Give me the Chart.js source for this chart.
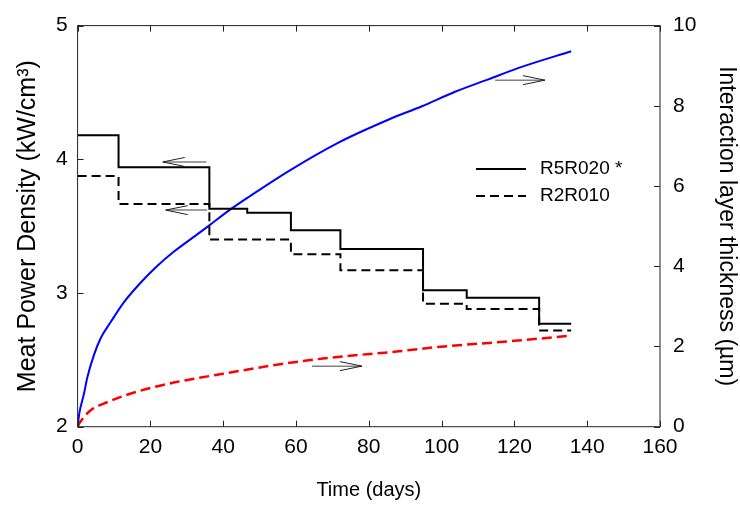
<!DOCTYPE html>
<html>
<head>
<meta charset="utf-8">
<script src="https://cdn.jsdelivr.net/npm/chart.js@4/dist/chart.umd.min.js"></script>
<style>
  html, body { margin: 0; padding: 0; background: #fff; }
  canvas { display: block; }
</style>
</head>
<body>
<canvas id="chart" width="740" height="505"></canvas>
<script>
// step data (left axis, kW/cm3)
const stepDays = [0, 11.25, 36.2, 46.6, 58.6, 72.2, 94.9, 106.9, 126.8, 135.6];
const r5r020 = [4.18, 3.94, 3.63, 3.60, 3.47, 3.33, 3.02, 2.965, 2.77, 2.77];
const dashDays = [0, 11.25, 36.2, 58.6, 72.2, 94.9, 106.9, 126.8, 135.6];
const r2r010 = [3.875, 3.665, 3.40, 3.29, 3.17, 2.92, 2.88, 2.72, 2.72];

// interaction layer thickness (right axis, um)
const blueDays = [0, 0.5, 1.75, 2.65, 4.5, 6.3, 9.1, 12.7, 17.3, 21.8, 26.4, 33.7, 36.2, 41.7, 47.2, 58.1, 71.8, 85.5, 94.6, 103.7, 112.8, 122, 135.6];
const blueThick = [0, 0.35, 0.82, 1.22, 1.79, 2.2, 2.61, 3.1, 3.59, 4.0, 4.36, 4.85, 5.02, 5.4, 5.74, 6.38, 7.09, 7.66, 7.99, 8.35, 8.66, 8.97, 9.36];
const redDays = [0, 0.6, 1.75, 3.6, 8.1, 17.3, 26.4, 40, 53.7, 67.4, 88.2, 98.2, 120, 135.6];
const redThick = [0, 0.1, 0.24, 0.41, 0.61, 0.90, 1.10, 1.32, 1.53, 1.70, 1.88, 1.98, 2.14, 2.27];

// arrows pointing to the axis each curve belongs to
const arrowFrom = [35.4, 35.6, 64.4, 114.7];
const arrowTo = [23.4, 24.2, 78.1, 128.4];
const arrowY = [3.98, 3.62, 1.51, 8.64];
const arrowAxis = ["y", "y", "y2", "y2"];

const FONT = "'Liberation Sans', Arial, sans-serif";

function pts(xs, ys) {
    return xs.map((x, i) => ({ x: x, y: ys[i] }));
}

const frame = {
    id: "frame",
    afterDraw(chart) {
        const ctx = chart.ctx;
        const a = chart.chartArea;
        const sx = chart.scales.x, sy = chart.scales.y, sy2 = chart.scales.y2;
        ctx.save();

        // arrows
        for (let i = 0; i < arrowY.length; i++) {
            const ys = chart.scales[arrowAxis[i]];
            const x0 = sx.getPixelForValue(arrowFrom[i]);
            const x1 = sx.getPixelForValue(arrowTo[i]);
            const y = ys.getPixelForValue(arrowY[i]);
            const dir = x1 > x0 ? 1 : -1;
            ctx.strokeStyle = "#808080";
            ctx.lineWidth = 1.5;
            ctx.beginPath();
            ctx.moveTo(x0, y);
            ctx.lineTo(x1, y);
            ctx.stroke();
            ctx.strokeStyle = "#222";
            ctx.lineWidth = 1;
            ctx.beginPath();
            ctx.moveTo(x1 - dir * 22, y - 4.5);
            ctx.lineTo(x1, y);
            ctx.lineTo(x1 - dir * 22, y + 4.5);
            ctx.stroke();
        }

        // box and inward ticks
        ctx.strokeStyle = "#222";
        ctx.lineWidth = 1;
        ctx.strokeRect(a.left, a.top, a.right - a.left, a.bottom - a.top);
        ctx.beginPath();
        sx.ticks.forEach(t => {
            const p = Math.round(sx.getPixelForValue(t.value)) + 0.5;
            ctx.moveTo(p, a.bottom); ctx.lineTo(p, a.bottom - 6);
            ctx.moveTo(p, a.top); ctx.lineTo(p, a.top + 6);
        });
        sy.ticks.forEach(t => {
            const p = Math.round(sy.getPixelForValue(t.value)) + 0.5;
            ctx.moveTo(a.left, p); ctx.lineTo(a.left + 6, p);
        });
        sy2.ticks.forEach(t => {
            const p = Math.round(sy2.getPixelForValue(t.value)) + 0.5;
            ctx.moveTo(a.right, p); ctx.lineTo(a.right - 6, p);
        });
        ctx.stroke();

        // legend
        const items = [0, 1];
        ctx.font = "19px " + FONT;
        ctx.textBaseline = "middle";
        ctx.fillStyle = "#000";
        items.forEach((di, k) => {
            const ds = chart.data.datasets[di];
            const y = 169 + k * 27;
            ctx.strokeStyle = ds.borderColor;
            ctx.lineWidth = 2;
            ctx.setLineDash(ds.borderDash || []);
            ctx.beginPath();
            ctx.moveTo(476, y);
            ctx.lineTo(526, y);
            ctx.stroke();
            ctx.setLineDash([]);
            ctx.fillText(ds.label, 540, y);
        });
        ctx.restore();
    }
};

new Chart(document.getElementById("chart"), {
    type: "line",
    data: {
        datasets: [
            {
                label: "R5R020 *",
                data: pts(stepDays, r5r020),
                yAxisID: "y",
                stepped: "before",
                borderColor: "#000",
                borderWidth: 2,
                pointRadius: 0
            },
            {
                label: "R2R010",
                data: pts(dashDays, r2r010),
                yAxisID: "y",
                stepped: "before",
                borderColor: "#000",
                borderDash: [9, 5],
                borderWidth: 2,
                pointRadius: 0
            },
            {
                label: "R5R020 layer",
                data: pts(blueDays, blueThick),
                yAxisID: "y2",
                borderColor: "#0000ff",
                borderWidth: 2,
                pointRadius: 0,
                cubicInterpolationMode: "monotone"
            },
            {
                label: "R2R010 layer",
                data: pts(redDays, redThick),
                yAxisID: "y2",
                borderColor: "#ff0000",
                borderDash: [10, 5],
                borderWidth: 2.5,
                pointRadius: 0,
                cubicInterpolationMode: "monotone"
            }
        ]
    },
    options: {
        responsive: false,
        animation: false,
        layout: { padding: { top: 18, left: 0, right: 0, bottom: 0 } },
        plugins: { legend: { display: false }, tooltip: { enabled: false } },
        scales: {
            x: {
                type: "linear",
                min: 0, max: 160,
                grid: { display: false, drawTicks: false },
                border: { display: false },
                ticks: { stepSize: 20, padding: 8, color: "#000", font: { family: FONT, size: 21 } },
                title: { display: true, text: "Time (days)", color: "#000", padding: { top: 0, bottom: 3 }, font: { family: FONT, size: 20 } },
                afterFit(s) { s.height = 78.3; }
            },
            y: {
                position: "left",
                min: 2, max: 5,
                grid: { display: false, drawTicks: false },
                border: { display: false },
                ticks: { stepSize: 1, padding: 10, color: "#000", font: { family: FONT, size: 21 } },
                title: { display: true, text: "Meat Power Density (kW/cm³)", color: "#000", padding: { top: 13, bottom: 0 }, font: { family: FONT, size: 25 } },
                afterFit(s) { s.width = 77.6; }
            },
            y2: {
                position: "right",
                min: 0, max: 10,
                grid: { display: false, drawTicks: false },
                border: { display: false },
                ticks: { stepSize: 2, padding: 13, color: "#000", font: { family: FONT, size: 21 } },
                title: { display: true, text: "Interaction layer thickness (µm)", color: "#000", padding: { top: 0, bottom: 0 }, font: { family: FONT, size: 23 } },
                afterFit(s) { s.width = 80; }
            }
        }
    },
    plugins: [frame]
});
</script>
</body>
</html>
